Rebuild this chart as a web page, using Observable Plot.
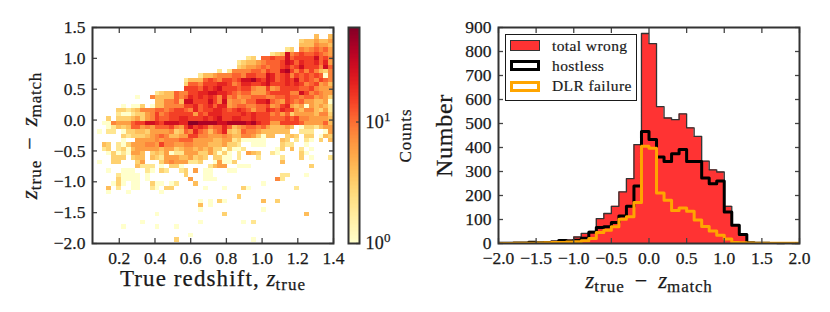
<!DOCTYPE html>
<html>
<head>
<meta charset="utf-8">
<script src="https://cdn.jsdelivr.net/npm/d3@7"></script>
<script src="https://cdn.jsdelivr.net/npm/@observablehq/plot@0.6"></script>
<style>
html,body{margin:0;padding:0;background:#fff}
#chart{position:relative;width:830px;height:312px;overflow:hidden;font-family:"Liberation Serif",serif;color:#1a1a1a}
#chart svg{position:absolute;top:0;background:transparent}
#chart svg text{stroke:#1a1a1a;stroke-width:.25px}
.leg{position:absolute;left:505px;top:34px;width:130px;height:65px;border:1.5px solid #1a1a1a;background:#fff;box-sizing:content-box}
.sw{position:absolute;left:4px;width:30px;height:11px;box-sizing:border-box}
.lt{position:absolute;left:46px;font-size:15.5px;line-height:18px;letter-spacing:.4px;white-space:nowrap;-webkit-text-stroke:.2px #1a1a1a}
</style>
</head>
<body>
<div id="chart"></div>
<script>
// ---------- data ----------
const countLevels = {".":0,"1":1,"2":2,"3":3,"4":4,"5":6,"6":8,"7":11,"8":15,"9":20,"a":28,"b":40,"c":55};
const heatTopEdge = 1.38, heatRowStep = 0.07, heatLeftEdge = 0.05, heatColStep = 0.027;
const heatRows = [
".......... .......... .......... .......... ......4..4",
".......... .......... .......... .......... ...3445445",
".......... .......... .......... .......... ...4446554",
".......... .......... .......... .......... 23.6567675",
".......... .......... .......... .......234 a678778765",
".......... .......... .......... ..23.77877 a78888a786",
".......... .......... .......... 2344567778 a979889795",
".......... .......... .......... 3455676778 978a8886a7",
".......... .......... ......2.26 666776877a b868686436",
".......... .......... ..24456667 768877a978 9687878716",
".......... .........2 4447876887 8aab98a978 98a7876876",
".......... .........3 7768889986 799889a888 9898678564",
".......... .........8 887989a888 7886558568 8887786555",
".......... ...2344766 8899aa9987 6775557888 866a867655",
".........1 ..64444767 9898986967 5667776677 8776775653",
".......... ...446674a a888a86a56 657799a765 8767554451",
"......1.11 3.14466668 8978979956 7766778568 9545154542",
".....33234 6667767887 6978899878 9875779879 8854664352",
".....21123 3568678888 8587999888 8989888675 7355554663",
"...3.33345 3568778899 888989a889 9889888777 8786655554",
"..11655578 8aa98aaa99 ccbbbbaabb bbab988558 8887555574",
"...1243477 5657778658 a898677974 5677675444 54.1332455",
".1.22.1334 4355556347 6976467943 4766544444 4..222..15",
"......3233 3456764455 8866555654 46653144.. 343.33.143",
"......1..5 5556566677 7555544552 311111...4 3.2.21.3.4",
"..43.21355 5665866556 6555444533 2..111...3 22..1.....",
"..23.23145 5555455345 5454533131 12......13 .4.2.1....",
"...1312155 4.34351225 553353131. 2.543..21. ...31.....",
"....333.34 4.43255544 5343.3311. 2...2....2 ...3.1...2",
".1..33...3 5...356555 223..15113 .........4 ..........",
".........4 222.1.331. ....2455.. 111....... .....3....",
"...1..111. .21.32..23 .5.11...11 .......... ..........",
".....21111 .1.......3 ...11..... .........2 2...1.....",
".....31111 .1........ 5..111.... ........62 ..........",
"....131.11 ..311.12.. .4........ .....1.... ..........",
"...4.2..11 ..21.33... ...1...1.. .31....... ..2.......",
"...1...1.. ....1..... .......... .......... ..........",
".......... .......... .......... 3......... ..........",
".......... .......... ..1.1.31.. .....4..3. ..........",
".......... .......... ..4.1..... .......... ..........",
".......... .......... ..1....... .....1.... ..........",
".......... ...1...... .......3.. .......... ....4.....",
".......... .......... .......... .......... ..........",
".......... 1......... ..1....... .1.2...... ..........",
"......1... ...1...1.. .......... .......... ..........",
".......... .......... .......... .......... ..........",
".......... .......... 1......... .......... ..........",
".......... .......3.. .......... ...1...... .........."
];
const histStart = -2, histBin = 0.1;
const totalWrong = [1,2,2,3,6,4,6,9,13,15,27,42,50,104,125,155,215,270,412,875,833,570,523,516,540,482,446,343,307,298,155,76,37,4,1,1,1,0,1,0];
const hostless   = [1,1,2,2,5,3,4,6,12,8,14,22,47,67,70,88,115,155,240,467,433,360,342,374,392,342,342,273,249,260,131,76,37,3,1,1,0,0,0,0];
const dlrFailure = [0,0,1,1,1,2,3,4,4,6,7,11,21,46,55,70,101,111,171,405,397,210,180,138,148,134,98,71,52,34,19,4,3,2,1,1,1,1,1,1];
const heatXTicks = [0.2,0.4,0.6,0.8,1.0,1.2,1.4];
const heatYTicks = [-2,-1.5,-1,-0.5,0,0.5,1,1.5];
const histXTicks = [-2,-1.5,-1,-0.5,0,0.5,1,1.5,2];
const histYTicks = [0,100,200,300,400,500,600,700,800,900];
const barTicks = [1,10];
const colorDomain = [1,60];
// ---------- helpers ----------
const FONT = '"Liberation Serif",serif';
const ink = "#1a1a1a", tickInk = "#444";
const fmt1 = d3.format(".1f");
const colorScale = {type:"log", domain:colorDomain, scheme:"YlOrRd"};
const heatCells = [];
heatRows.forEach((row,r) => {
  [...row.replace(/ /g,"")].forEach((c,i) => {
    const n = countLevels[c];
    if (n > 0) heatCells.push({
      x1: heatLeftEdge + i*heatColStep, x2: heatLeftEdge + (i+1)*heatColStep,
      y1: heatTopEdge - (r+1)*heatRowStep, y2: heatTopEdge - r*heatRowStep, n});
  });
});
const stepSeries = vals => [...vals, vals[vals.length-1]].map((y,i) => ({x: histStart + i*histBin, y}));

function frameTicks(xT, yT, xFmt, yFmt, size){
  return [
    Plot.axisX(xT, {anchor:"bottom", tickSize:-5, stroke:tickInk, strokeWidth:1.3, fill:"none", label:null}),
    Plot.axisX(xT, {anchor:"top", tickSize:-5, stroke:tickInk, strokeWidth:1.3, fill:"none", label:null}),
    Plot.axisY(yT, {anchor:"left", tickSize:-5, stroke:tickInk, strokeWidth:1.3, fill:"none", label:null}),
    Plot.axisY(yT, {anchor:"right", tickSize:-5, stroke:tickInk, strokeWidth:1.3, fill:"none", label:null}),
    Plot.axisX(xT, {anchor:"bottom", tickSize:0, tickPadding:8, tickFormat:xFmt, fill:ink, label:null, fontSize:size}),
    Plot.axisY(yT, {anchor:"left", tickSize:0, tickPadding:7, tickFormat:yFmt, fill:ink, label:null, fontSize:size}),
    Plot.frame({stroke:"#333", strokeWidth:2})
  ];
}
function rich(svg, marker, parts){
  d3.select(svg).selectAll("text").filter(function(){return this.textContent===marker;}).each(function(){
    const t = d3.select(this); t.text(null);
    let shift = 0;
    parts.forEach(p => {
      const s = t.append("tspan").text(p.t);
      if (p.i) s.attr("font-style","italic");
      if (p.s) s.attr("font-size",p.s);
      if (p.ls) s.attr("letter-spacing",p.ls);
      const d = p.d||0;
      if (d!==shift) { s.attr("dy", d-shift); shift = d; }
      if (p.dx) s.attr("dx",p.dx);
    });
  });
}
const base = {style:{fontFamily:FONT, background:"transparent"}};
const chart = document.getElementById("chart");
const zParts = () => [
  {t:"z",i:true,s:23},{t:"true",s:17,d:4,ls:1},
  {t:"−",s:22,dx:10},{t:"z",i:true,s:23,dx:11},{t:"match",s:17,d:4,ls:.8}];
// ---------- left panel ----------
const LBL_A = "z_true − z_match (y)", LBL_B = "True redshift, z_true";
const heat = Plot.plot({...base, width:360, height:312,
  marginLeft:92, marginRight:27, marginTop:27, marginBottom:69,
  x:{domain:[0.05,1.4]}, y:{domain:[-2,1.5]}, color:colorScale,
  marks:[
    Plot.rect(heatCells,{x1:"x1",x2:"x2",y1:"y1",y2:"y2",fill:"n",shapeRendering:"crispEdges",clip:true}),
    ...frameTicks(heatXTicks,heatYTicks,fmt1,fmt1,17.5),
    Plot.text([LBL_B],{frameAnchor:"bottom",lineAnchor:"bottom",dy:42,fontSize:23,fill:ink}),
    Plot.text([LBL_A],{frameAnchor:"left",textAnchor:"middle",rotate:-90,dx:-63,fontSize:23,fill:ink})
  ]});
rich(heat, LBL_A, zParts());
rich(heat, LBL_B, [{t:"True redshift, ",s:23,ls:1.1},{t:"z",i:true,s:23},{t:"true",s:17,d:4,ls:1}]);
heat.style.left="0px"; chart.appendChild(heat);
// ---------- colour bar ----------
const barSteps = d3.range(0,160).map(i => {
  const lo = colorDomain[0]*Math.pow(colorDomain[1]/colorDomain[0], i/160);
  const hi = colorDomain[0]*Math.pow(colorDomain[1]/colorDomain[0], (i+1)/160);
  return {lo, hi, mid:Math.sqrt(lo*hi)};
});
const barTick = d => d===1 ? "10⁰" : "10¹";
const bar = Plot.plot({...base, width:90, height:312,
  marginLeft:8, marginRight:71, marginTop:27, marginBottom:69,
  x:{domain:[0,1],axis:null}, y:{type:"log",domain:colorDomain,axis:null}, color:colorScale,
  marks:[
    Plot.rect(barSteps,{x1:0,x2:1,y1:"lo",y2:"hi",fill:"mid",shapeRendering:"crispEdges"}),
    Plot.axisY(barTicks,{anchor:"right",tickSize:-4,stroke:"#444",strokeWidth:1.3,fill:"none",label:null}),
    Plot.axisY(barTicks,{anchor:"right",tickSize:0,tickPadding:6,tickFormat:barTick,fill:ink,label:null,fontSize:18}),
    Plot.frame({stroke:"#333",strokeWidth:2}),
    Plot.text(["Counts"],{frameAnchor:"right",textAnchor:"middle",rotate:-90,dx:46,fontSize:17,fill:ink})
  ]});
rich(bar,"10⁰",[{t:"10",s:18,ls:.3},{t:"0",s:13,d:-7}]);
rich(bar,"10¹",[{t:"10",s:18,ls:.3},{t:"1",s:13,d:-7}]);
rich(bar,"Counts",[{t:"Counts",s:17,ls:1}]);
bar.style.left="340px"; chart.appendChild(bar);
// ---------- right panel ----------
const LBL_C = "z_true − z_match (x)";
const hist = Plot.plot({...base, width:400, height:312,
  marginLeft:68, marginRight:31, marginTop:27, marginBottom:69,
  x:{domain:[-2,2]}, y:{domain:[0,900]},
  marks:[
    Plot.areaY(stepSeries(totalWrong),{x:"x",y:"y",curve:"step-after",fill:"#ff3333"}),
    Plot.lineY(stepSeries(totalWrong),{x:"x",y:"y",curve:"step-after",stroke:"#333",strokeWidth:1.3}),
    Plot.lineY(stepSeries(hostless),{x:"x",y:"y",curve:"step-after",stroke:"#000",strokeWidth:3,clip:true}),
    Plot.lineY(stepSeries(dlrFailure),{x:"x",y:"y",curve:"step-after",stroke:"orange",strokeWidth:3,clip:true}),
    ...frameTicks(histXTicks,histYTicks,fmt1,d3.format("d"),17.5),
    Plot.text([LBL_C],{frameAnchor:"bottom",lineAnchor:"bottom",dy:44,fontSize:23,fill:ink}),
    Plot.text(["Number"],{frameAnchor:"left",textAnchor:"middle",rotate:-90,dx:-54,fontSize:24,fill:ink})
  ]});
rich(hist, LBL_C, zParts());
rich(hist, "Number", [{t:"Number",s:24,ls:.7}]);
hist.style.left="430px"; chart.appendChild(hist);
// ---------- legend ----------
const legendItems = [
  {label:"total wrong", fill:"#ff3333", stroke:"#333", w:1, top:5},
  {label:"hostless", fill:"#fff", stroke:"#000", w:3, top:25},
  {label:"DLR failure", fill:"#fff", stroke:"orange", w:3, top:45.5}
];
const leg = document.createElement("div"); leg.className="leg";
legendItems.forEach(it => {
  const s = document.createElement("div"); s.className="sw";
  s.style.cssText = `top:${it.top}px;background:${it.fill};border:${it.w}px solid ${it.stroke}`;
  const t = document.createElement("div"); t.className="lt"; t.textContent = it.label;
  t.style.top = (it.top-3.5)+"px";
  leg.append(s,t);
});
chart.appendChild(leg);
</script>
</body>
</html>
